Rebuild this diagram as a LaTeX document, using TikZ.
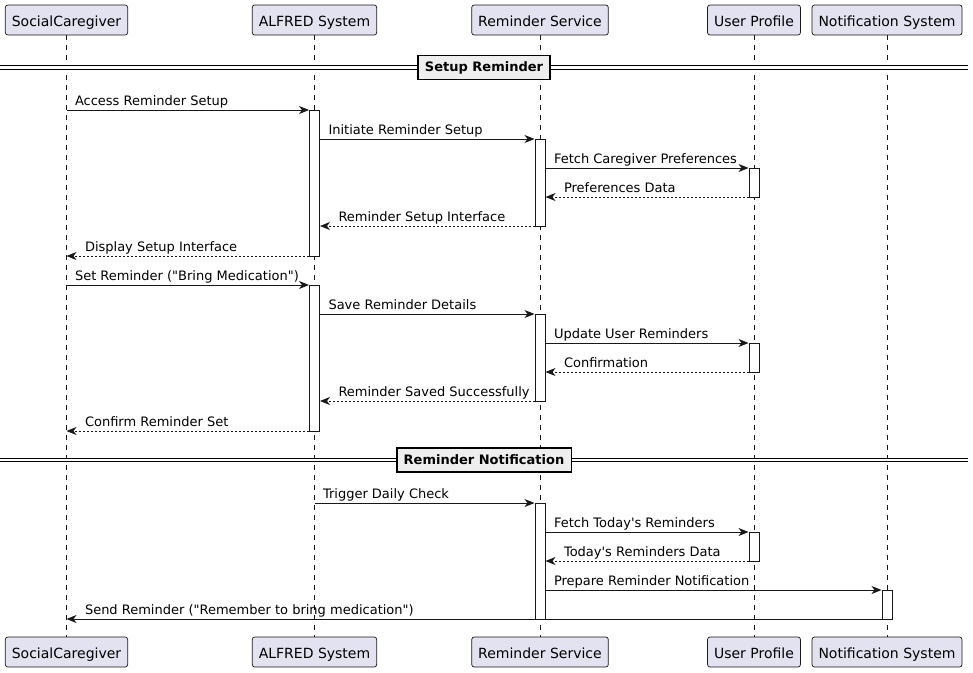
\documentclass[tikz,border=0pt]{standalone}
\usepackage{fontspec}
\setmainfont{DejaVu Sans}[Ligatures=TeXOff]
\usetikzlibrary{arrows.meta,calc}
\definecolor{linegray}{HTML}{181818}
\definecolor{partfill}{HTML}{E2E2F0}
\definecolor{divfill}{HTML}{EEEEEE}
\tikzset{
  participant/.style={draw=linegray, fill=partfill, rounded corners=2.5pt, line width=0.7pt, minimum height=30pt, inner xsep=6.5pt, inner ysep=0pt, text height=13pt, text depth=0.5pt, font=\fontsize{14}{16}\selectfont},
  lifeline/.style={draw=linegray, line width=0.5pt, dash pattern=on 5pt off 5pt},
  actbar/.style={draw=linegray, fill=white, line width=1pt, minimum width=10pt, inner sep=0pt},
  msg/.style={draw=linegray, line width=1pt, -{Stealth[length=10pt,width=8pt,inset=3pt]}},
  reply/.style={msg, dash pattern=on 2pt off 2pt},
  lbl/.style={anchor=base west, inner sep=0pt, xshift=8pt, yshift=5pt, font=\fontsize{13}{15}\selectfont},
  rlbl/.style={lbl, xshift=10pt},
  divider/.style={draw=black, double, double distance=2.2pt, line width=1pt},
  divlabel/.style={draw=black, line width=1.6pt, fill=divfill, inner xsep=7pt, minimum height=24pt, font=\fontsize{13}{15}\selectfont\bfseries}
}
\begin{document}
\begin{tikzpicture}[x=1pt,y=-1pt]
    \useasboundingbox (0,0) rectangle (973,672);
    \node[participant] (sc) at (66.5,20) {SocialCaregiver};
    \node[participant] (alf) at (314.5,20) {ALFRED System};
    \node[participant] (rs) at (540,20) {Reminder Service};
    \node[participant] (up) at (754,20) {User Profile};
    \node[participant] (ns) at (887,20) {Notification System};
    \node[participant] (sc2) at (66.5,652) {SocialCaregiver};
    \node[participant] (alf2) at (314.5,652) {ALFRED System};
    \node[participant] (rs2) at (540,652) {Reminder Service};
    \node[participant] (up2) at (754,652) {User Profile};
    \node[participant] (ns2) at (887,652) {Notification System};
    \foreach \p in {sc,alf,rs,up,ns}
        \draw[lifeline] (\p.south) -- (\p2.north);
    \foreach \y [count=\i] in {110,139,168,197,226,256,285,314,343,372,401,431,503,532,561,590,619}
        \coordinate (m\i) at (0,\y);
    \coordinate (dl1) at (0,67.5);
    \coordinate (dr1) at (968,67.5);
    \coordinate (dl2) at (0,460);
    \coordinate (dr2) at (968,460);
    \draw[divider] (dl1) -- (dr1);
    \draw[divider] (dl2) -- (dr2);
    \node[divlabel] (div1) at ($(dl1)!0.5!(dr1)$) {Setup Reminder\hspace{6pt}};
    \node[divlabel] (div2) at ($(dl2)!0.5!(dr2)$) {Reminder Notification\hspace{6pt}};
    \node[actbar, minimum height=146pt] (a1) at ($(alf |- m1)!0.5!(alf |- m6)$) {};
    \node[actbar, minimum height=146pt] (a2) at ($(alf |- m7)!0.5!(alf |- m12)$) {};
    \node[actbar, minimum height=87pt] (b1) at ($(rs |- m2)!0.5!(rs |- m5)$) {};
    \node[actbar, minimum height=87pt] (b2) at ($(rs |- m8)!0.5!(rs |- m11)$) {};
    \node[actbar, minimum height=116pt] (b3) at ($(rs |- m13)!0.5!(rs |- m17)$) {};
    \node[actbar, minimum height=29pt] (c1) at ($(up |- m3)!0.5!(up |- m4)$) {};
    \node[actbar, minimum height=29pt] (c2) at ($(up |- m9)!0.5!(up |- m10)$) {};
    \node[actbar, minimum height=29pt] (c3) at ($(up |- m14)!0.5!(up |- m15)$) {};
    \node[actbar, minimum height=29pt] (d1) at ($(ns |- m16)!0.5!(ns |- m17)$) {};
    \draw[msg] (sc |- m1) -- node[lbl, pos=0] {Access Reminder Setup} (a1.west |- m1);
    \draw[msg] (a1.east |- m2) -- node[lbl, pos=0] {Initiate Reminder Setup} (b1.west |- m2);
    \draw[msg] (b1.east |- m3) -- node[lbl, pos=0] {Fetch Caregiver Preferences} (c1.west |- m3);
    \draw[reply] (c1.west |- m4) -- node[rlbl, pos=1] {Preferences Data} (b1.east |- m4);
    \draw[reply] (b1.west |- m5) -- node[rlbl, pos=1] {Reminder Setup Interface} (a1.east |- m5);
    \draw[reply] (a1.west |- m6) -- node[rlbl, pos=1] {Display Setup Interface} (sc |- m6);
    \draw[msg] (sc |- m7) -- node[lbl, pos=0] {Set Reminder ("Bring Medication")} (a2.west |- m7);
    \draw[msg] (a2.east |- m8) -- node[lbl, pos=0] {Save Reminder Details} (b2.west |- m8);
    \draw[msg] (b2.east |- m9) -- node[lbl, pos=0] {Update User Reminders} (c2.west |- m9);
    \draw[reply] (c2.west |- m10) -- node[rlbl, pos=1] {Confirmation} (b2.east |- m10);
    \draw[reply] (b2.west |- m11) -- node[rlbl, pos=1] {Reminder Saved Successfully} (a2.east |- m11);
    \draw[reply] (a2.west |- m12) -- node[rlbl, pos=1] {Confirm Reminder Set} (sc |- m12);
    \draw[msg] (alf |- m13) -- node[lbl, pos=0] {Trigger Daily Check} (b3.west |- m13);
    \draw[msg] (b3.east |- m14) -- node[lbl, pos=0] {Fetch Today's Reminders} (c3.west |- m14);
    \draw[reply] (c3.west |- m15) -- node[rlbl, pos=1] {Today's Reminders Data} (b3.east |- m15);
    \draw[msg] (b3.east |- m16) -- node[lbl, pos=0] {Prepare Reminder Notification} (d1.west |- m16);
    \draw[msg] (d1.west |- m17) -- node[rlbl, pos=1] {Send Reminder ("Remember to bring medication")} (sc |- m17);
\end{tikzpicture}
\end{document}
